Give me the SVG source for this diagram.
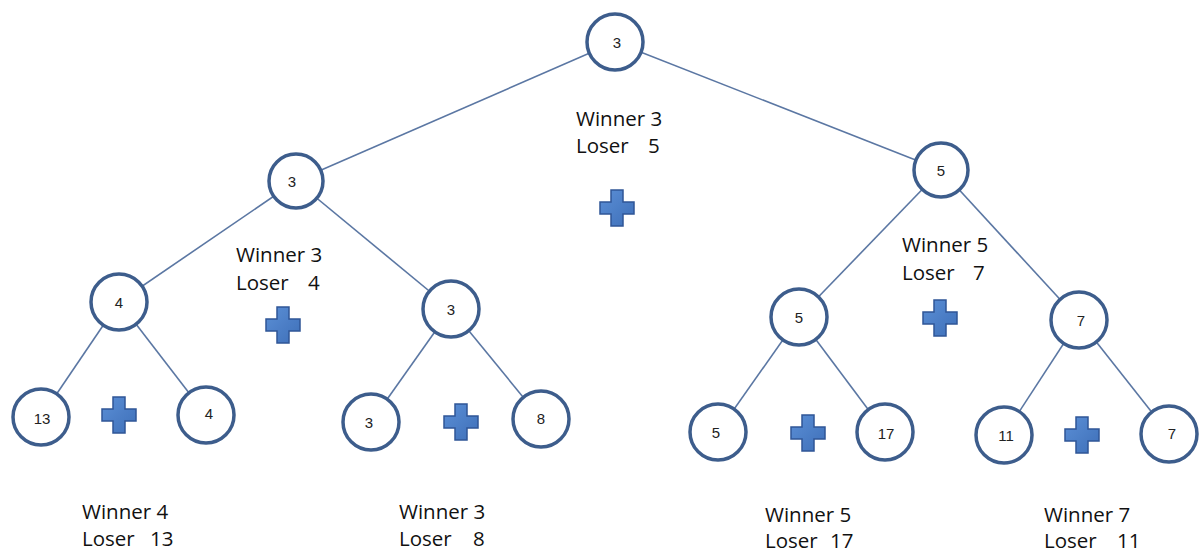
<svg xmlns="http://www.w3.org/2000/svg" width="1200" height="554" viewBox="0 0 1200 554">
<defs>
<style>
.n{fill:#fff;stroke:#3d5d8c;stroke-width:3.5}
.nt{font-family:"Liberation Sans",Arial,sans-serif;font-size:15px;fill:#222;text-anchor:middle;dominant-baseline:central}
.e{stroke:#5b77a3;stroke-width:1.6;fill:none}
.lb{font-family:"Open Sans","Liberation Sans",sans-serif;font-size:20.5px;fill:#111}
</style>
<linearGradient id="pg" x1="0" y1="0" x2="1" y2="1">
<stop offset="0" stop-color="#5b8fd6"/>
<stop offset="1" stop-color="#3e6fb8"/>
</linearGradient>
<polygon id="plus" points="-6,-18 6,-18 6,-6 17,-6 17,6 6,6 6,18 -6,18 -6,6 -17,6 -17,-6 -6,-6" fill="url(#pg)" stroke="#2f5597" stroke-width="1.5"/>
</defs>
<rect width="1200" height="554" fill="#fff"/>
<g id="connectors">
<line class="e" x1="615" y1="42" x2="296" y2="181"/>
<line class="e" x1="615" y1="42" x2="941" y2="170"/>
<line class="e" x1="296" y1="181" x2="119" y2="302"/>
<line class="e" x1="296" y1="181" x2="451" y2="309"/>
<line class="e" x1="941" y1="170" x2="799" y2="317"/>
<line class="e" x1="941" y1="170" x2="1079" y2="320"/>
<line class="e" x1="119" y1="302" x2="41" y2="417"/>
<line class="e" x1="119" y1="302" x2="206" y2="415"/>
<line class="e" x1="451" y1="309" x2="371" y2="422"/>
<line class="e" x1="451" y1="309" x2="541" y2="419"/>
<line class="e" x1="799" y1="317" x2="718" y2="432"/>
<line class="e" x1="799" y1="317" x2="885" y2="432"/>
<line class="e" x1="1079" y1="320" x2="1004" y2="435"/>
<line class="e" x1="1079" y1="320" x2="1169" y2="434"/>
</g>
<g id="root"><circle class="n" cx="615" cy="42" r="28"/><text class="nt" x="617" y="42">3</text></g>
<g id="l1a"><circle class="n" cx="296" cy="181" r="27"/><text class="nt" x="292" y="181">3</text></g>
<g id="l1b"><circle class="n" cx="941" cy="170" r="27"/><text class="nt" x="941" y="170">5</text></g>
<g id="l2a"><circle class="n" cx="119" cy="302" r="28"/><text class="nt" x="119" y="302">4</text></g>
<g id="l2b"><circle class="n" cx="451" cy="309" r="28"/><text class="nt" x="451" y="309">3</text></g>
<g id="l2c"><circle class="n" cx="799" cy="317" r="28"/><text class="nt" x="799" y="317">5</text></g>
<g id="l2d"><circle class="n" cx="1079" cy="320" r="28"/><text class="nt" x="1081" y="320">7</text></g>
<g id="l3a"><circle class="n" cx="41" cy="417" r="28"/><text class="nt" x="42" y="418">13</text></g>
<g id="l3b"><circle class="n" cx="206" cy="415" r="28"/><text class="nt" x="209" y="413">4</text></g>
<g id="l3c"><circle class="n" cx="371" cy="422" r="28"/><text class="nt" x="369" y="422">3</text></g>
<g id="l3d"><circle class="n" cx="541" cy="419" r="28"/><text class="nt" x="541" y="418">8</text></g>
<g id="l3e"><circle class="n" cx="718" cy="432" r="28"/><text class="nt" x="716" y="432">5</text></g>
<g id="l3f"><circle class="n" cx="885" cy="432" r="28"/><text class="nt" x="886" y="433">17</text></g>
<g id="l3g"><circle class="n" cx="1004" cy="435" r="28"/><text class="nt" x="1006" y="435">11</text></g>
<g id="l3h"><circle class="n" cx="1169" cy="434" r="28"/><text class="nt" x="1172" y="433">7</text></g>
<g id="pluses">
<use href="#plus" x="617" y="208"/>
<use href="#plus" x="283" y="325"/>
<use href="#plus" x="119" y="415"/>
<use href="#plus" x="461" y="422"/>
<use href="#plus" x="940" y="318"/>
<use href="#plus" x="808" y="433"/>
<use href="#plus" x="1082" y="435"/>
</g>
<g id="labels">
<text class="lb" x="576" y="126">Winner 3</text><text class="lb" y="153"><tspan x="576">Loser</tspan><tspan x="648">5</tspan></text>
<text class="lb" x="236" y="262">Winner 3</text><text class="lb" y="290"><tspan x="236">Loser</tspan><tspan x="308">4</tspan></text>
<text class="lb" x="902" y="252">Winner 5</text><text class="lb" y="280"><tspan x="902">Loser</tspan><tspan x="973">7</tspan></text>
<text class="lb" x="82" y="519">Winner 4</text><text class="lb" y="546"><tspan x="82">Loser</tspan><tspan x="150">13</tspan></text>
<text class="lb" x="399" y="519">Winner 3</text><text class="lb" y="546"><tspan x="399">Loser</tspan><tspan x="473">8</tspan></text>
<text class="lb" x="765" y="522">Winner 5</text><text class="lb" y="548"><tspan x="765">Loser</tspan><tspan x="830">17</tspan></text>
<text class="lb" x="1044" y="522">Winner 7</text><text class="lb" y="548"><tspan x="1044">Loser</tspan><tspan x="1117">11</tspan></text>
</g>
</svg>
